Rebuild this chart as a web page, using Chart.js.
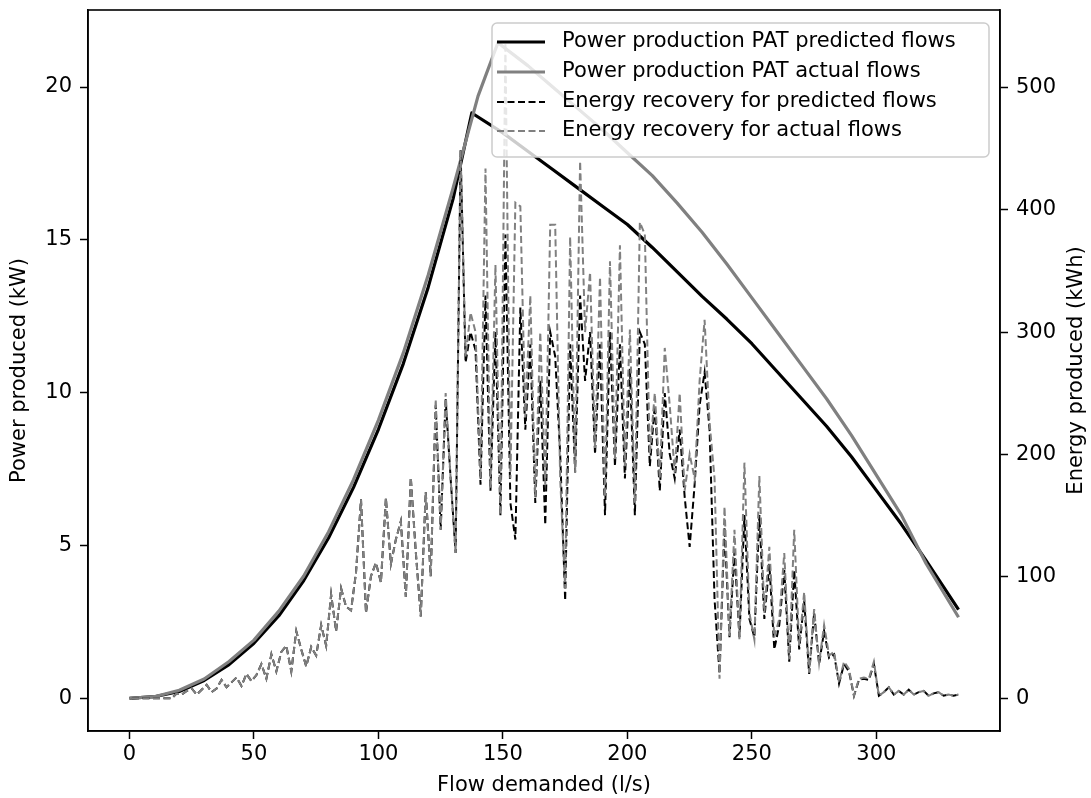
<!DOCTYPE html>
<html>
<head>
<meta charset="utf-8">
<title>PAT power and energy recovery</title>
<script src="https://cdn.jsdelivr.net/npm/chart.js@4.4.1/dist/chart.umd.min.js"></script>
<style>
  html, body { margin: 0; padding: 0; background: #fff; }
  #wrap { width: 1091px; height: 798px; position: relative; }
</style>
</head>
<body>
<div id="wrap"><canvas id="chart"></canvas></div>
<script>
// power curves (kW) vs flow demanded (l/s)
const predFlowQ = [0, 10, 20, 30, 40, 50, 60, 70, 80, 90, 100, 110, 120, 130, 137.5, 150, 160, 170, 180, 190, 200, 210, 220, 230, 240, 250, 260, 270, 280, 290, 300, 310, 320, 333];
const predPower = [0, 0.05, 0.22, 0.58, 1.1, 1.8, 2.7, 3.85, 5.25, 6.9, 8.8, 10.95, 13.45, 16.35, 19.15, 18.5, 17.9, 17.3, 16.7, 16.1, 15.5, 14.75, 13.95, 13.15, 12.4, 11.6, 10.7, 9.8, 8.9, 7.9, 6.8, 5.7, 4.5, 2.9];

const actFlowQ = [0, 10, 20, 30, 40, 50, 60, 70, 80, 90, 100, 110, 120, 130, 140, 148, 160, 170, 180, 190, 200, 210, 220, 230, 240, 250, 260, 270, 280, 290, 300, 310, 320, 333];
const actPower = [0, 0.05, 0.26, 0.63, 1.2, 1.9, 2.85, 4.0, 5.45, 7.15, 9.1, 11.3, 13.85, 16.7, 19.7, 21.45, 20.7, 20.0, 19.3, 18.6, 17.85, 17.1, 16.2, 15.25, 14.2, 13.1, 12.0, 10.9, 9.8, 8.6, 7.3, 6.0, 4.4, 2.65];

// energy recovery (kWh) per flow step
const energyFlowQ = [1, 3, 5, 7, 9, 11, 13, 15, 17, 19, 21, 23, 25, 27, 29, 31, 33, 35, 37, 39,
  41, 43, 45, 47, 49, 51, 53, 55, 57, 59, 61, 63, 65, 67, 69, 71, 73, 75, 77, 79,
  81, 83, 85, 87, 89, 91, 93, 95, 97, 99, 101, 103, 105, 107, 109, 111, 113, 115, 117, 119,
  121, 123, 125, 127, 129, 131, 133, 135, 137, 139, 141, 143, 145, 147, 149, 151, 153, 155, 157, 159,
  161, 163, 165, 167, 169, 171, 173, 175, 177, 179, 181, 183, 185, 187, 189, 191, 193, 195, 197, 199,
  201, 203, 205, 207, 209, 211, 213, 215, 217, 219, 221, 223, 225, 227, 229, 231, 233, 235, 237, 239,
  241, 243, 245, 247, 249, 251, 253, 255, 257, 259, 261, 263, 265, 267, 269, 271, 273, 275, 277, 279,
  281, 283, 285, 287, 289, 291, 293, 295, 297, 299, 301, 303, 305, 307, 309, 311, 313, 315, 317, 319,
  321, 323, 325, 327, 329, 331, 333];

const energyPred = [0, 0, 0, 0, 0, 0, 0, 0, 0, 4, 3, 6, 8, 3, 7, 11, 5, 8, 15, 9,
  13, 17, 10, 20, 14, 19, 28, 16, 36, 22, 38, 43, 22, 55, 40, 26, 42, 35, 60, 43,
  85, 55, 90, 75, 72, 103, 163, 70, 100, 111, 95, 164, 110, 130, 145, 83, 181, 120, 67, 169,
  100, 240, 138, 245, 180, 119, 449, 275, 300, 285, 175, 330, 170, 300, 150, 380, 160, 130, 320, 220,
  290, 160, 260, 142, 300, 280, 200, 80, 290, 185, 330, 260, 300, 200, 290, 150, 300, 190, 290, 180,
  270, 150, 300, 290, 190, 240, 170, 250, 200, 180, 220, 165, 124, 175, 240, 267, 220, 81, 20, 140,
  50, 120, 50, 150, 65, 50, 150, 65, 110, 40, 60, 105, 30, 105, 40, 80, 20, 70, 28, 55,
  33, 36, 12, 28, 22, 2, 15, 16, 15, 28, 2, 5, 9, 3, 6, 3, 7, 3, 5, 6,
  2, 4, 5, 2, 3, 2, 3];

const energyAct = [0, 0, 0, 0, 0, 0, 0, 0, 0, 4, 3, 6, 8, 3, 7, 11, 5, 8, 15, 9,
  13, 17, 10, 20, 14, 19, 28, 16, 36, 22, 38, 43, 22, 55, 40, 26, 42, 35, 60, 43,
  85, 55, 90, 75, 72, 103, 163, 70, 100, 111, 95, 164, 110, 130, 145, 83, 181, 120, 67, 169,
  100, 245, 138, 250, 180, 119, 449, 280, 316, 300, 180, 434, 172, 355, 150, 537, 180, 406, 403, 230,
  330, 165, 300, 175, 388, 388, 180, 90, 378, 185, 440, 300, 349, 205, 345, 165, 358, 196, 371, 190,
  302, 160, 390, 380, 200, 250, 180, 287, 240, 185, 250, 170, 200, 180, 260, 310, 226, 180, 16, 157,
  51, 138, 48, 193, 70, 48, 182, 70, 124, 50, 65, 119, 32, 138, 43, 87, 21, 73, 29, 60,
  35, 38, 13, 30, 24, 2, 16, 17, 16, 30, 2, 5, 9, 3, 6, 3, 7, 3, 5, 6,
  2, 4, 5, 2, 3, 2, 3];

const xTicks = [0, 50, 100, 150, 200, 250, 300];
const yTicks = [0, 5, 10, 15, 20];
const y1Ticks = [0, 100, 200, 300, 400, 500];

const seriesNames = [
  'Power production PAT predicted flows',
  'Power production PAT actual flows',
  'Energy recovery for predicted flows',
  'Energy recovery for actual flows'
];

const GREY = '#808080';
const FONT = { family: 'DejaVu Sans', size: 21 };

function pairs(xs, ys) {
  return xs.map((x, i) => ({ x: x, y: ys[i] }));
}

function fixTicks(values) {
  return function (scale) {
    scale.ticks = values.map(v => ({ value: v }));
  };
}

// fixed box sizes so the plot area sits where matplotlib put it
function fixSize(w, h) {
  return function (s) {
    if (w) s.width = w;
    if (h) s.height = h;
    s.paddingTop = 0;
    s.paddingBottom = 0;
    s.paddingLeft = 0;
    s.paddingRight = 0;
  };
}

const axisGrid = { drawOnChartArea: false, drawTicks: true, tickLength: 8, tickColor: '#000', tickWidth: 1.5 };
const axisBorder = { display: true, color: '#000', width: 1.5 };

// legend box, frame and right-hand label drawn by hand to look like matplotlib
const decorPlugin = {
  id: 'decor',
  afterDatasetsDraw(chart) {
    const { ctx, chartArea: a } = chart;
    ctx.save();
    ctx.strokeStyle = '#000';
    ctx.lineWidth = 1.6;
    ctx.strokeRect(a.left, a.top, a.right - a.left, a.bottom - a.top);
    ctx.restore();
  },
  afterDraw(chart) {
    const { ctx, chartArea: a } = chart;
    ctx.save();

    // right axis title, reads bottom to top
    ctx.font = FONT.size + 'px "DejaVu Sans"';
    ctx.fillStyle = '#000';
    ctx.textAlign = 'center';
    ctx.textBaseline = 'middle';
    ctx.translate(1077, (a.top + a.bottom) / 2);
    ctx.rotate(-Math.PI / 2);
    ctx.fillText('Energy produced (kWh)', 0, 0);
    ctx.setTransform(1, 0, 0, 1, 0, 0);

    // legend
    const bx = 492, by = 23, bw = 497, bh = 134, r = 5;
    ctx.beginPath();
    ctx.moveTo(bx + r, by);
    ctx.arcTo(bx + bw, by, bx + bw, by + bh, r);
    ctx.arcTo(bx + bw, by + bh, bx, by + bh, r);
    ctx.arcTo(bx, by + bh, bx, by, r);
    ctx.arcTo(bx, by, bx + bw, by, r);
    ctx.closePath();
    ctx.fillStyle = 'rgba(255,255,255,0.8)';
    ctx.fill();
    ctx.strokeStyle = '#cccccc';
    ctx.lineWidth = 1.5;
    ctx.stroke();

    const rows = [42, 72, 102, 131];
    chart.data.datasets.forEach((ds, i) => {
      ctx.beginPath();
      ctx.setLineDash(ds.borderDash || []);
      ctx.strokeStyle = ds.borderColor;
      ctx.lineWidth = ds.borderWidth;
      ctx.moveTo(497, rows[i]);
      ctx.lineTo(545, rows[i]);
      ctx.stroke();
      ctx.setLineDash([]);
      ctx.fillStyle = '#000';
      ctx.textAlign = 'left';
      ctx.textBaseline = 'middle';
      ctx.fillText(ds.label, 562, rows[i]);
    });
    ctx.restore();
  }
};

new Chart(document.getElementById('chart'), {
  type: 'line',
  data: {
    datasets: [
      {
        label: seriesNames[0],
        data: pairs(predFlowQ, predPower),
        yAxisID: 'y',
        borderColor: '#000',
        borderWidth: 3.2,
        borderJoinStyle: 'round',
        pointRadius: 0,
        order: 4
      },
      {
        label: seriesNames[1],
        data: pairs(actFlowQ, actPower),
        yAxisID: 'y',
        borderColor: GREY,
        borderWidth: 3.2,
        borderJoinStyle: 'round',
        pointRadius: 0,
        order: 3
      },
      {
        label: seriesNames[2],
        data: pairs(energyFlowQ, energyPred),
        yAxisID: 'y1',
        borderColor: '#000',
        borderWidth: 2,
        borderDash: [7, 3.5],
        pointRadius: 0,
        order: 2
      },
      {
        label: seriesNames[3],
        data: pairs(energyFlowQ, energyAct),
        yAxisID: 'y1',
        borderColor: GREY,
        borderWidth: 2,
        borderDash: [7, 3.5],
        pointRadius: 0,
        order: 1
      }
    ]
  },
  options: {
    responsive: true,
    maintainAspectRatio: false,
    animation: false,
    layout: { padding: { top: 10, left: 0, right: 0, bottom: 0 } },
    plugins: {
      legend: { display: false },
      tooltip: { enabled: false }
    },
    scales: {
      x: {
        type: 'linear',
        min: -16.65,
        max: 349.65,
        afterBuildTicks: fixTicks(xTicks),
        afterFit: fixSize(0, 67),
        ticks: { font: FONT, color: '#000', padding: 3, maxRotation: 0, autoSkip: false },
        grid: axisGrid,
        border: axisBorder,
        title: { display: true, text: 'Flow demanded (l/s)', font: FONT, color: '#000', padding: { top: 0, bottom: 0 } }
      },
      y: {
        type: 'linear',
        position: 'left',
        min: -1.0725,
        max: 22.52,
        afterBuildTicks: fixTicks(yTicks),
        afterFit: fixSize(88, 0),
        ticks: { font: FONT, color: '#000', padding: 8 },
        grid: axisGrid,
        border: axisBorder,
        title: { display: true, text: 'Power produced (kW)', font: FONT, color: '#000', padding: { top: 7, bottom: 0 } }
      },
      y1: {
        type: 'linear',
        position: 'right',
        min: -26.85,
        max: 563.85,
        afterBuildTicks: fixTicks(y1Ticks),
        afterFit: fixSize(91, 0),
        ticks: { font: FONT, color: '#000', padding: 8 },
        grid: axisGrid,
        border: axisBorder
      }
    }
  },
  plugins: [decorPlugin]
});
</script>
</body>
</html>
